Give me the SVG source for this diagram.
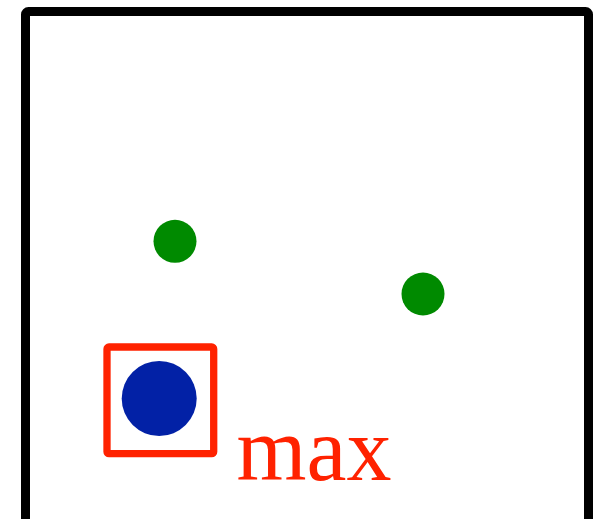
<svg xmlns="http://www.w3.org/2000/svg" width="602" height="519" viewBox="0 0 602 519">
<style>
.dot{fill:#008a00}
</style>
<rect x="0" y="0" width="602" height="519" fill="#ffffff"/>
<g id="frame"><rect x="25.5" y="11.5" width="563" height="530" rx="3" fill="none" stroke="#000000" stroke-width="9" stroke-linejoin="round"/></g>
<g id="point1"><circle class="dot" cx="175" cy="241.3" r="21.5"/></g>
<g id="point2"><circle class="dot" cx="423" cy="294" r="21.5"/></g>
<g id="max-point"><circle cx="159.2" cy="398.5" r="37.5" fill="#0221a6"/></g>
<g id="max-box"><rect x="107" y="347" width="106.7" height="106.7" rx="2" fill="none" stroke="#ff2200" stroke-width="7.3" stroke-linejoin="round"/></g>
<g id="label"><text x="236.5" y="479.5" font-family="'Liberation Serif', serif" font-size="90" fill="#ff2200">max</text></g>
<g id="connectors"/>
</svg>
